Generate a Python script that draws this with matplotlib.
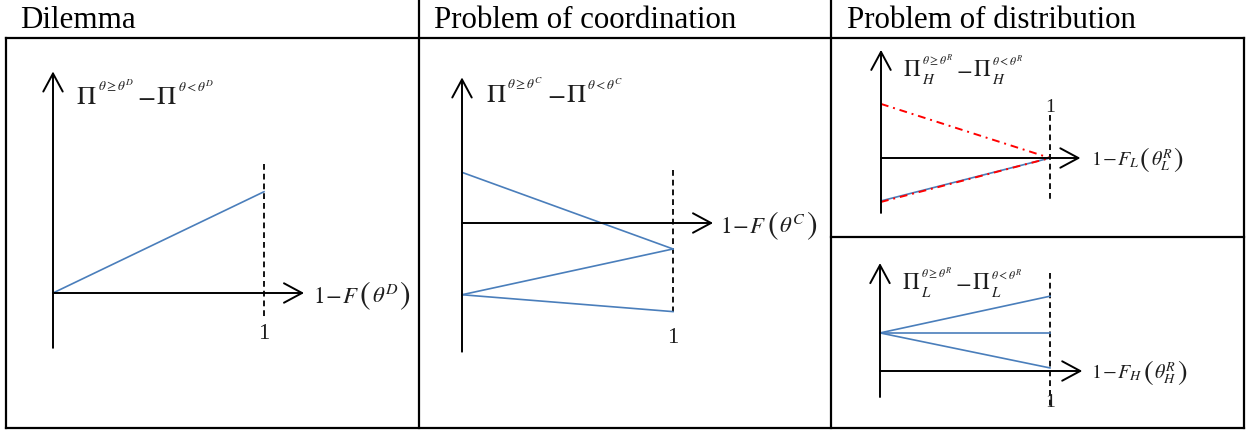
import matplotlib
matplotlib.use("Agg")
import matplotlib.pyplot as plt

plt.rcParams["mathtext.fontset"] = "stix"
plt.rcParams["font.family"] = ["Liberation Serif", "DejaVu Serif"]

# ---- data (axis units: the dashed line sits at x = 1) ----
panel_titles = ["Dilemma", "Problem of coordination", "Problem of distribution"]

dilemma_x = [0, 1]
dilemma_y = [0, 0.48]

coord_x = [0, 1]
coord_lines = [[0.24, -0.123], [-0.34, -0.123], [-0.34, -0.42]]

distH_x = [0, 1]
distH_blue = [-0.254, 0.0]
distH_red = [[0.32, 0.0], [-0.26, 0.0]]

distL_x = [0, 1]
distL_lines = [[0.224, 0.44], [0.224, 0.224], [0.224, 0.018]]

one_label = "1"
threshold_sym = ["D", "C", "R", "R"]
player_sub = [None, None, "H", "L"]
xvar_sub = [None, None, "L", "H"]

W, H = 1252, 432
BLUE = "#4a7ebb"
RED = "#ff0000"
TXT = "#1e1e1e"

fig = plt.figure(figsize=(W / 100, H / 100), dpi=100)

# ---- table frame in pixel coordinates ----
frame = fig.add_axes([0, 0, 1, 1])
frame.set_xlim(0, W)
frame.set_ylim(H, 0)
frame.axis("off")
lw_tab = 1.6
frame.plot([6, 1244], [38, 38], color="black", lw=lw_tab)
frame.plot([6, 1244], [428, 428], color="black", lw=lw_tab)
frame.plot([6, 6], [38, 428], color="black", lw=lw_tab)
frame.plot([1244, 1244], [38, 428], color="black", lw=lw_tab)
frame.plot([419, 419], [0, 428], color="black", lw=lw_tab)
frame.plot([831, 831], [0, 428], color="black", lw=lw_tab)
frame.plot([831, 1244], [237, 237], color="black", lw=lw_tab)
for tx, title in zip([20, 434, 847], panel_titles):
    frame.text(tx, 27.5, title, fontsize=22.3, color="black", va="baseline", ha="left")


def panel(cell, origin, scale):
    """Axes over a table cell whose data origin is at pixel `origin`, `scale` px per unit."""
    x0, y0, x1, y1 = cell
    ox, oy = origin
    ax = fig.add_axes([x0 / W, 1 - y1 / H, (x1 - x0) / W, (y1 - y0) / H])
    ax.set_xlim((x0 - ox) / scale, (x1 - ox) / scale)
    ax.set_ylim((oy - y1) / scale, (oy - y0) / scale)
    ax.axis("off")
    ax.patch.set_alpha(0)
    return ax


def arrow(ax, start, tip):
    ax.annotate("", xy=tip, xytext=start,
                arrowprops=dict(arrowstyle="->,head_length=1.3,head_width=0.7",
                                mutation_scale=10, lw=1.4, color="black",
                                shrinkA=0, shrinkB=0))


def dashed(ax, y0, y1):
    ax.plot([1, 1], [y0, y1], color="black", lw=1.3, linestyle=(0, (3.2, 2.2)))


def rich(ax, x, y, pieces):
    """Lay out text pieces left to right on a common baseline.

    Each piece is (text, size, dx, dy, anchor): dx/dy in points, anchor is the
    index of the piece whose right edge it follows (None -> the previous one).
    """
    arts = []
    for i, (s, size, dx, dy, anc) in enumerate(pieces):
        kw = dict(textcoords="offset points", xytext=(dx, dy), fontsize=size,
                  color=TXT, ha="left", va="baseline", annotation_clip=False)
        if i == 0:
            a = ax.annotate(s, xy=(x, y), xycoords="data", **kw)
        else:
            ref = arts[i - 1 if anc is None else anc]
            a = ax.annotate(s, xy=(1, y), xycoords=(ref, "data"), **kw)
        arts.append(a)
    return arts


def y_label(ax, x, y, sym, sub, big, small):
    raise_pt = big * 0.49
    pieces = []
    for k, rel in enumerate([r"\geq", "<"]):
        start = len(pieces)
        pieces.append((r"$\Pi$", big, 0 if k == 0 else 0.5, 0, None))
        sup = rf"$\theta{rel}\theta^{{{sym}}}$"
        if sub:
            pieces.append((rf"$_{{{sub}}}$", small * 1.8, 0.5, -small * 0.45, start))
        pieces.append((sup, small, 0.6, raise_pt, start))
        if k == 0:
            pieces.append((r"$-$", big, 2.5, 0, None))
    rich(ax, x, y, pieces)


def x_label(ax, x, sym, sub, main, paren, base_pt):
    minus = r"1\hspace{0.08}{-}\hspace{0.08}F"
    fn = rf"${minus}_{{{sub}}}$" if sub else rf"${minus}$"
    arg = rf"$\theta_{{{sub}}}^{{{sym}}}$" if sub else rf"$\theta^{{{sym}}}$"
    # centre the taller parentheses on the digit height
    p_dy = -base_pt + 0.34 * main - 0.27 * paren
    pieces = [
        (fn, main, 0, -base_pt, None),
        (r"$($", paren, 0.3, p_dy, None),
        (arg, main, 0.3, -base_pt, None),
        (r"$)$", paren, 0.3, p_dy, None),
    ]
    rich(ax, x, 0, pieces)


# Panel 1: dilemma
ax1 = panel((6, 38, 419, 428), (53, 293), 211)
arrow(ax1, (0, -0.26), (0, 1.05))
arrow(ax1, (0, 0), (1.19, 0))
dashed(ax1, 0.61, -0.13)
ax1.plot(dilemma_x, dilemma_y, color=BLUE, lw=1.2)
ax1.text(1, -0.19, one_label, fontsize=16.5, ha="center", va="center", color=TXT)
x_label(ax1, 1.23, threshold_sym[0], xvar_sub[0], 16.5, 23, 7.4)
y_label(ax1, 0.11, 0.896, threshold_sym[0], player_sub[0], 19, 9.6)

# Panel 2: coordination
ax2 = panel((419, 38, 831, 428), (462, 223), 211)
arrow(ax2, (0, -0.61), (0, 0.69))
arrow(ax2, (0, 0), (1.19, 0))
dashed(ax2, 0.25, -0.42)
for ys in coord_lines:
    ax2.plot(coord_x, ys, color=BLUE, lw=1.2)
ax2.text(1, -0.545, one_label, fontsize=16.5, ha="center", va="center", color=TXT)
x_label(ax2, 1.225, threshold_sym[1], xvar_sub[1], 16.5, 23, 7.4)
y_label(ax2, 0.114, 0.573, threshold_sym[1], player_sub[1], 19, 9.6)

# Panel 3 top: distribution, high type
ax3 = panel((831, 38, 1244, 237), (881, 158), 169)
arrow(ax3, (0, -0.325), (0, 0.64))
arrow(ax3, (0, 0), (1.18, 0))
dashed(ax3, 0.254, -0.26)
ax3.plot(distH_x, distH_blue, color=BLUE, lw=1.2)
for ys in distH_red:
    ax3.plot(distH_x, ys, color=RED, lw=1.4, linestyle=(0, (4, 2.5, 1, 2.5)))
ax3.text(1, 0.296, one_label, fontsize=14, ha="center", va="center", color=TXT)
x_label(ax3, 1.24, threshold_sym[2], xvar_sub[2], 14.5, 21, 5.4)
y_label(ax3, 0.13, 0.485, threshold_sym[2], player_sub[2], 16.5, 8.5)

# Panel 3 bottom: distribution, low type
ax4 = panel((831, 237, 1244, 428), (880, 371), 170)
arrow(ax4, (0, -0.153), (0, 0.635))
arrow(ax4, (0, 0), (1.19, 0))
dashed(ax4, 0.576, -0.218)
for ys in distL_lines:
    ax4.plot(distL_x, ys, color=BLUE, lw=1.2)
ax4.text(1, -0.185, one_label, fontsize=14, ha="center", va="center", color=TXT)
x_label(ax4, 1.24, threshold_sym[3], xvar_sub[3], 14.5, 21, 5.4)
y_label(ax4, 0.13, 0.48, threshold_sym[3], player_sub[3], 16.5, 8.5)

fig.savefig("out.png", dpi=100, facecolor="white")
